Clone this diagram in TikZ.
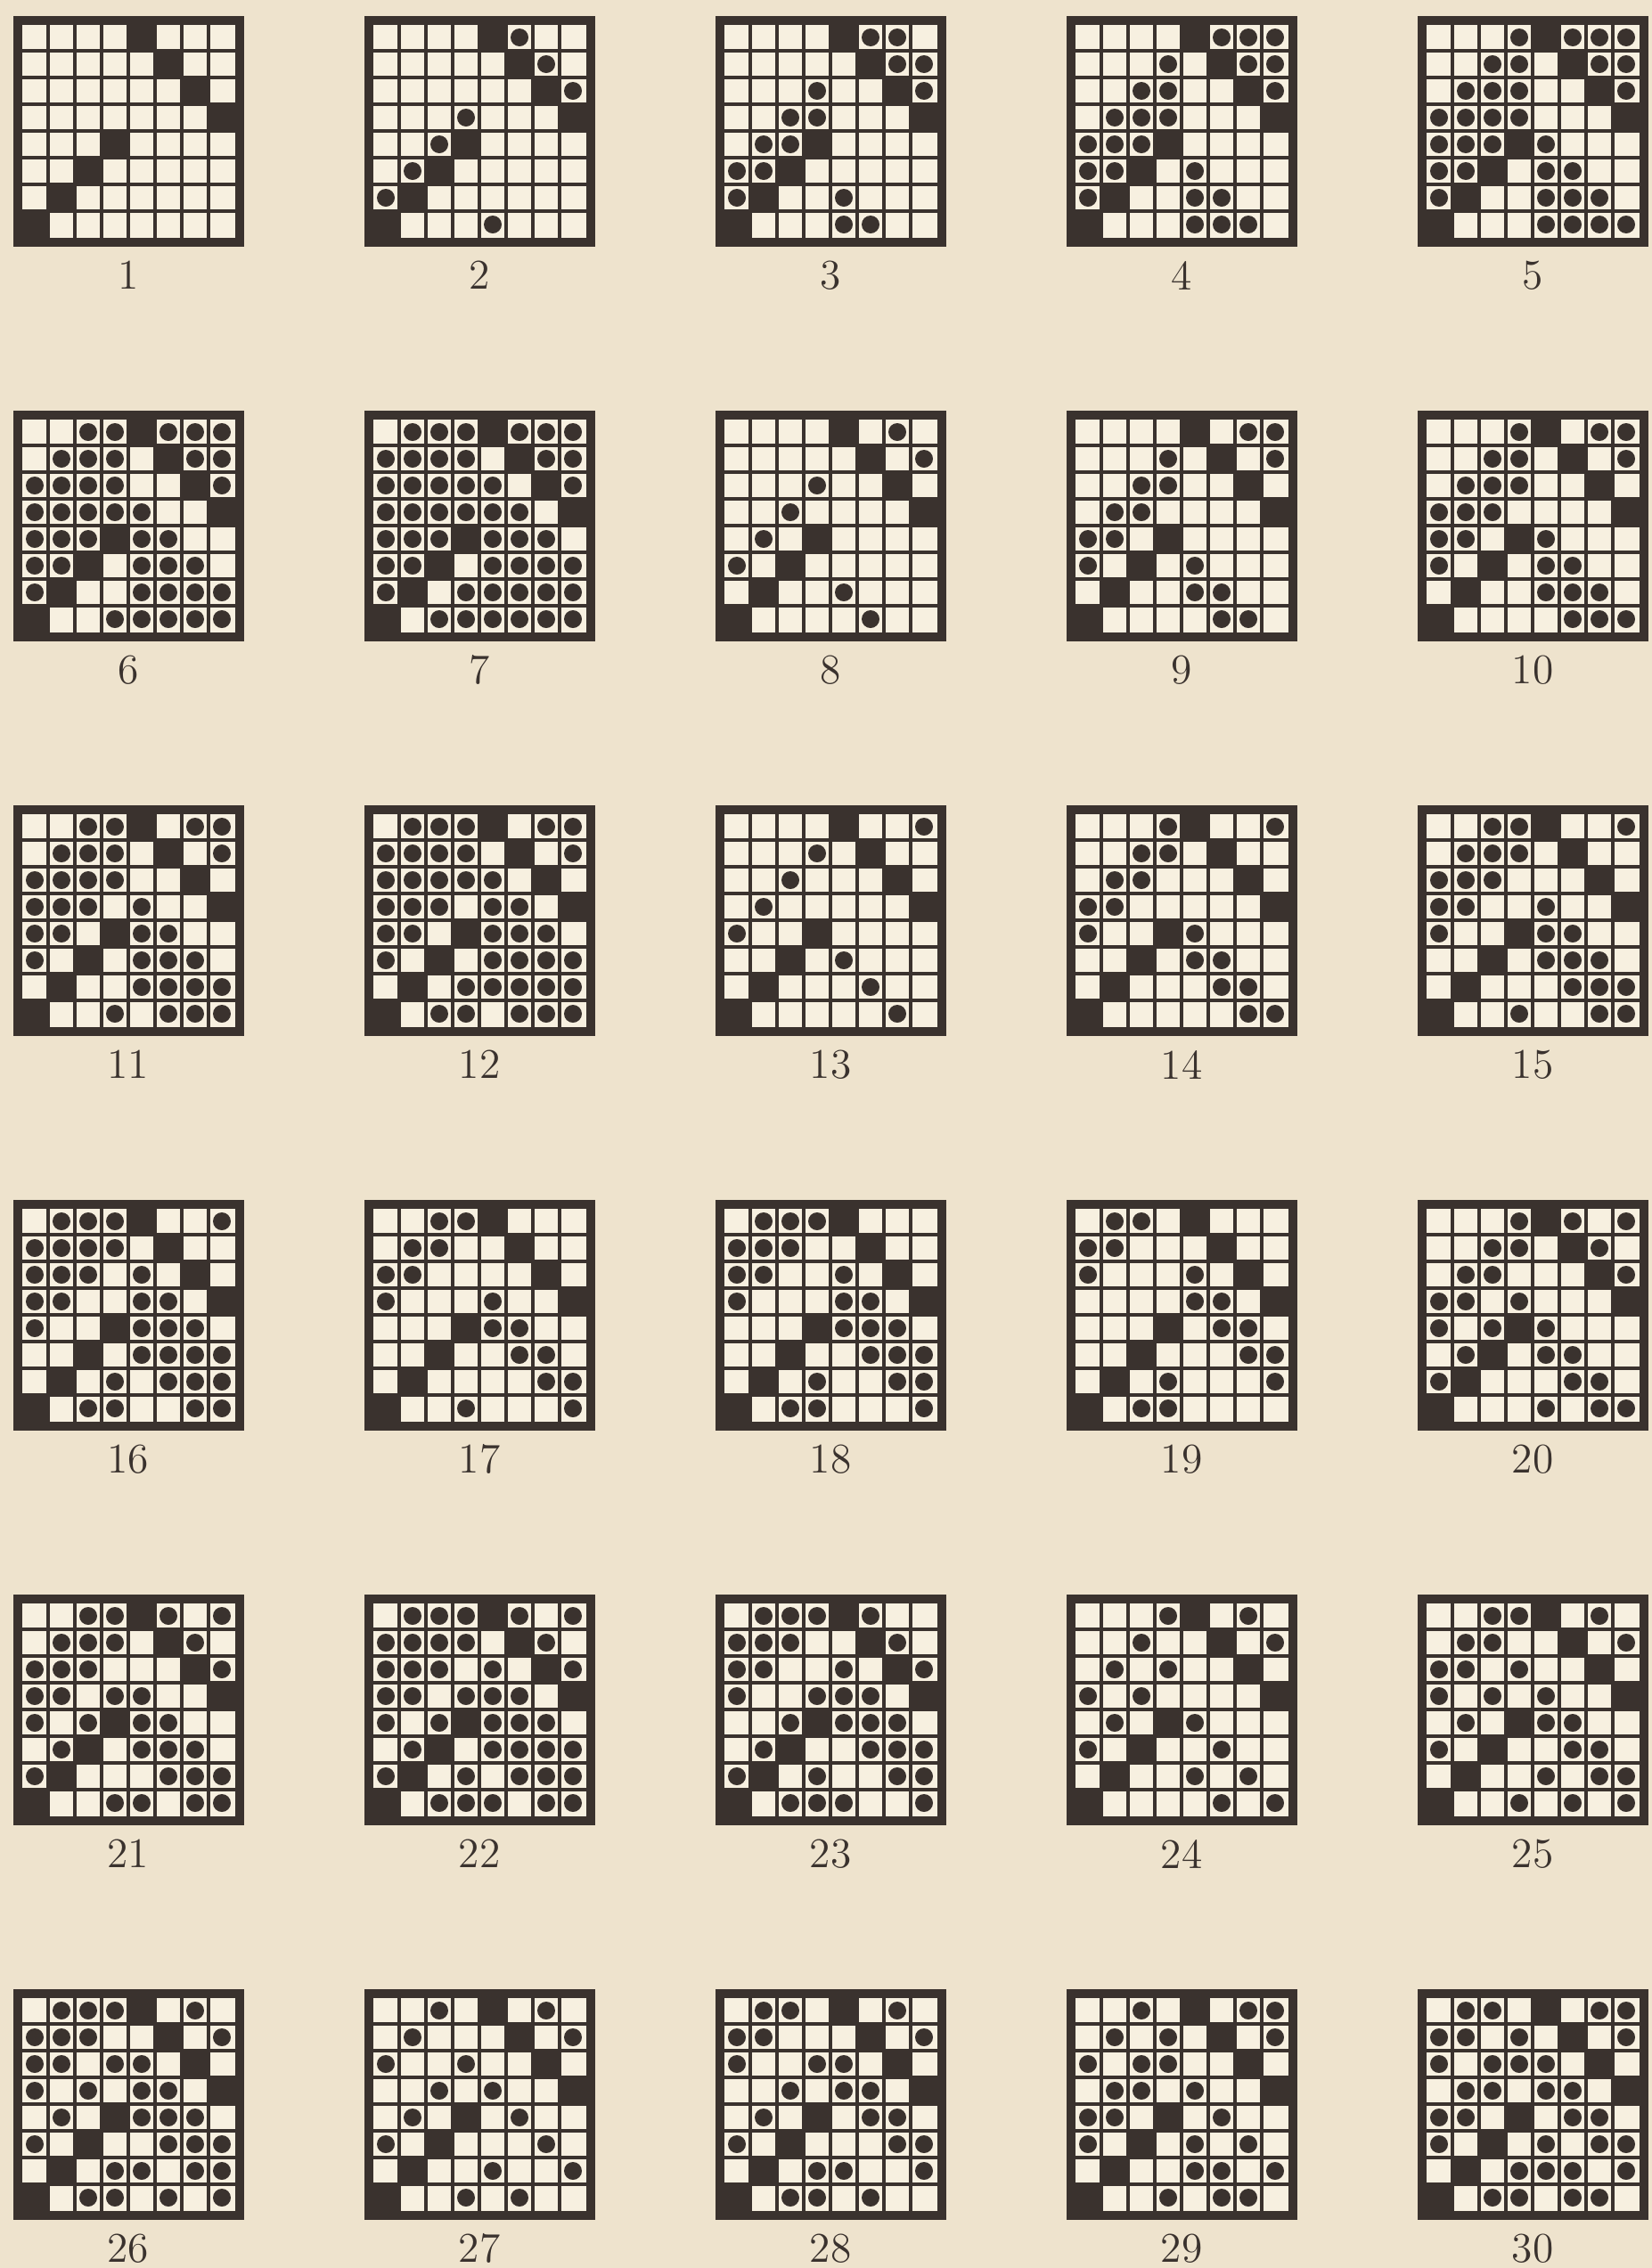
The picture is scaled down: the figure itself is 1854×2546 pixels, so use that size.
\documentclass[tikz,border=0pt]{standalone}
\usepackage{tikz}
\definecolor{paper}{RGB}{238,227,205}
\definecolor{cellpaper}{RGB}{247,240,224}
\definecolor{ink}{RGB}{58,50,46}

\tikzset{
  thinrule/.style={draw=ink,line width=0.35mm},
  frame/.style={draw=ink,line width=1.0mm},
  numlabel/.style={inner sep=0pt,text=ink,font=\fontsize{13.5}{15}\selectfont}
}

% one cell: - empty, o dot, X black
\newcommand\cellmark[2]{%
  \if#1o\fill[ink] (#2*30-15,\rowi*30-15) circle (1.0mm);\fi
  \if#1X\fill[ink] (#2*30-30,\rowi*30-30) rectangle ++(30,30);\fi}
\newcommand\rowcells[8]{\cellmark{#1}{1}\cellmark{#2}{2}\cellmark{#3}{3}\cellmark{#4}{4}%
  \cellmark{#5}{5}\cellmark{#6}{6}\cellmark{#7}{7}\cellmark{#8}{8}}
% #1 column, #2 row of the sheet, #3 number, #4 the eight rows
\newcommand\board[4]{%
  \begin{scope}[shift={(24+394*#1-394,27+443*#2-443)}]
    \fill[cellpaper] (0,0) rectangle (240,240);
    \foreach \cells [count=\rowi] in {#4} {\expandafter\rowcells\cells}
    \foreach \k in {1,...,7} {
      \draw[thinrule] (\k*30,0) -- (\k*30,240);
      \draw[thinrule] (0,\k*30) -- (240,\k*30);
    }
    \draw[frame] (-4.5,-4.5) rectangle (244.5,244.5);
    \node[numlabel] (n#3) at (120,282) {#3};
  \end{scope}}

\begin{document}
\begin{tikzpicture}[x=0.1mm,y=-0.1mm]
  \path[use as bounding box,fill=paper] (0,0) rectangle (1854,2546);

  \board{1}{1}{1}{----X---,-----X--,------X-,-------X,---X----,--X-----,-X------,X-------}
  \board{2}{1}{2}{----Xo--,-----Xo-,------Xo,---o---X,--oX----,-oX-----,oX------,X---o---}
  \board{3}{1}{3}{----Xoo-,-----Xoo,---o--Xo,--oo---X,-ooX----,ooX-----,oX--o---,X---oo--}
  \board{4}{1}{4}{----Xooo,---o-Xoo,--oo--Xo,-ooo---X,oooX----,ooX-o---,oX--oo--,X---ooo-}
  \board{5}{1}{5}{---oXooo,--oo-Xoo,-ooo--Xo,oooo---X,oooXo---,ooX-oo--,oX--ooo-,X---oooo}

  \board{1}{2}{6}{--ooXooo,-ooo-Xoo,oooo--Xo,ooooo--X,oooXoo--,ooX-ooo-,oX--oooo,X--ooooo}
  \board{2}{2}{7}{-oooXooo,oooo-Xoo,ooooo-Xo,oooooo-X,oooXooo-,ooX-oooo,oX-ooooo,X-oooooo}
  \board{3}{2}{8}{----X-o-,-----X-o,---o--X-,--o----X,-o-X----,o-X-----,-X--o---,X----o--}
  \board{4}{2}{9}{----X-oo,---o-X-o,--oo--X-,-oo----X,oo-X----,o-X-o---,-X--oo--,X----oo-}
  \board{5}{2}{10}{---oX-oo,--oo-X-o,-ooo--X-,ooo----X,oo-Xo---,o-X-oo--,-X--ooo-,X----ooo}

  \board{1}{3}{11}{--ooX-oo,-ooo-X-o,oooo--X-,ooo-o--X,oo-Xoo--,o-X-ooo-,-X--oooo,X--o-ooo}
  \board{2}{3}{12}{-oooX-oo,oooo-X-o,ooooo-X-,ooo-oo-X,oo-Xooo-,o-X-oooo,-X-ooooo,X-oo-ooo}
  \board{3}{3}{13}{----X--o,---o-X--,--o---X-,-o-----X,o--X----,--X-o---,-X---o--,X-----o-}
  \board{4}{3}{14}{---oX--o,--oo-X--,-oo---X-,oo-----X,o--Xo---,--X-oo--,-X---oo-,X-----oo}
  \board{5}{3}{15}{--ooX--o,-ooo-X--,ooo---X-,oo--o--X,o--Xoo--,--X-ooo-,-X---ooo,X--o--oo}

  \board{1}{4}{16}{-oooX--o,oooo-X--,ooo-o-X-,oo--oo-X,o--Xooo-,--X-oooo,-X-o-ooo,X-oo--oo}
  \board{2}{4}{17}{--ooX---,-oo--X--,oo----X-,o---o--X,---Xoo--,--X--oo-,-X----oo,X--o---o}
  \board{3}{4}{18}{-oooX---,ooo--X--,oo--o-X-,o---oo-X,---Xooo-,--X--ooo,-X-o--oo,X-oo---o}
  \board{4}{4}{19}{-oo-X---,oo---X--,o---o-X-,----oo-X,---X-oo-,--X---oo,-X-o---o,X-oo----}
  \board{5}{4}{20}{---oXo-o,--oo-Xo-,-oo---Xo,oo-o---X,o-oXo---,-oX-oo--,oX---oo-,X---o-oo}

  \board{1}{5}{21}{--ooXo-o,-ooo-Xo-,ooo---Xo,oo-oo--X,o-oXoo--,-oX-ooo-,oX---ooo,X--oo-oo}
  \board{2}{5}{22}{-oooXo-o,oooo-Xo-,ooo-o-Xo,oo-ooo-X,o-oXooo-,-oX-oooo,oX-o-ooo,X-ooo-oo}
  \board{3}{5}{23}{-oooXo--,ooo--Xo-,oo--o-Xo,o--ooo-X,--oXooo-,-oX--ooo,oX-o--oo,X-ooo--o}
  \board{4}{5}{24}{---oX-o-,--o--X-o,-o-o--X-,o-o----X,-o-Xo---,o-X--o--,-X--o-o-,X----o-o}
  \board{5}{5}{25}{--ooX-o-,-oo--X-o,oo-o--X-,o-o-o--X,-o-Xoo--,o-X--oo-,-X--o-oo,X--o-o-o}

  \board{1}{6}{26}{-oooX-o-,ooo--X-o,oo-oo-X-,o-o-oo-X,-o-Xooo-,o-X--ooo,-X-oo-oo,X-oo-o-o}
  \board{2}{6}{27}{--o-X-o-,-o---X-o,o--o--X-,--o-o--X,-o-X-o--,o-X---o-,-X--o--o,X--o-o--}
  \board{3}{6}{28}{-oo-X-o-,oo---X-o,o--oo-X-,--o-oo-X,-o-X-oo-,o-X---oo,-X-oo--o,X-oo-o--}
  \board{4}{6}{29}{--o-X-oo,-o-o-X-o,o-oo--X-,-oo-o--X,oo-X-o--,o-X-o-o-,-X--oo-o,X--o-oo-}
  \board{5}{6}{30}{-oo-X-oo,oo-o-X-o,o-ooo-X-,-oo-oo-X,oo-X-oo-,o-X-o-oo,-X-ooo-o,X-oo-oo-}
\end{tikzpicture}
\end{document}
